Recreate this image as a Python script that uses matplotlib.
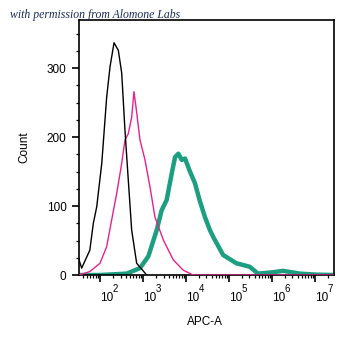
import numpy as np
import matplotlib
matplotlib.use("Agg")
import matplotlib.pyplot as plt
from matplotlib.ticker import LogLocator, MultipleLocator, FixedLocator, NullFormatter

plt.rcParams['font.family'] = ['Liberation Sans', 'DejaVu Sans']
plt.rcParams['mathtext.default'] = 'regular'

# Unstained / isotype control (black)
black_x = [32.5, 37.5, 58, 70, 84, 110, 143, 171, 212, 267, 320, 381, 455, 546, 713, 1220]
black_y = [22, 10, 36, 75, 99, 162, 258, 302, 337, 326, 293, 210, 138, 65, 17, 0]

# Pink histogram
pink_x = [32.5, 58, 100, 143, 187, 244, 320, 381, 455, 546, 617, 687, 852, 1113, 1454, 1900, 2967, 5060, 8630, 14700, 2.77e7]
pink_y = [0, 5, 17, 41, 80, 118, 162, 196, 205, 229, 266, 244, 196, 167, 128, 84, 51, 22, 7, 0, 0]

# Teal histogram (stained)
teal_x = [32.5, 100, 417, 852, 1330, 2080, 2720, 3560, 4650, 5560, 6650, 7950, 9510, 12400,
          16200, 21100, 27600, 36100, 43200, 73200, 149000, 303000, 473000, 1.06e6, 1.81e6,
          4.46e6, 1.09e7, 2.77e7]
teal_y = [0, 0, 2, 10, 27, 65, 94, 109, 147, 171, 176, 167, 169, 150,
          133, 107, 84, 65, 55, 29, 17, 12, 2, 4, 6, 2, 0.5, 0]

y_ticks = [0, 100, 200, 300]
x_ticks = [1e2, 1e3, 1e4, 1e5, 1e6, 1e7]
x_exponents = ['2', '3', '4', '5', '6', '7']

fig = plt.figure(figsize=(3.55, 3.48), dpi=100)
ax = fig.add_axes([79/355, 1 - 275/348, 255/355, 255/348])

ax.plot(teal_x, teal_y, color='#1c9e80', lw=3.2, solid_joinstyle='round', zorder=2)
ax.plot(pink_x, pink_y, color='#e8218c', lw=1.0, zorder=3)
ax.plot(black_x, black_y, color='black', lw=1.0, zorder=4)

ax.set_xscale('log')
ax.set_xlim(32.5, 2.77e7)
ax.set_ylim(0, 370)

ax.set_yticks(y_ticks)
ax.yaxis.set_minor_locator(MultipleLocator(25))
ax.xaxis.set_major_locator(FixedLocator(x_ticks))
ax.xaxis.set_major_formatter(NullFormatter())
ax.xaxis.set_minor_locator(LogLocator(base=10, subs=np.arange(2, 10), numticks=20))
ax.xaxis.set_minor_formatter(NullFormatter())

ax.tick_params(axis='both', which='major', direction='out', length=5, width=1.2, labelsize=8.5)
ax.tick_params(axis='both', which='minor', direction='out', length=2.5, width=0.9)
ax.tick_params(axis='y', which='major', pad=4)

xform = ax.get_xaxis_transform()
for xv, ex in zip(x_ticks, x_exponents):
    ax.annotate('10', xy=(xv, 0), xycoords=xform, xytext=(0.5, -26), textcoords='offset pixels',
                ha='left', va='baseline', fontsize=8.5, annotation_clip=False)
    ax.annotate(ex, xy=(xv, 0), xycoords=xform, xytext=(13, -17), textcoords='offset pixels',
                ha='left', va='baseline', fontsize=7, annotation_clip=False)

for s in ax.spines.values():
    s.set_linewidth(1.2)

ax.set_xlabel('APC-A', fontsize=8.5)
ax.xaxis.set_label_coords((205 - 79) / 255, -(316 - 275) / 255)
ax.set_ylabel('Count', fontsize=8.5)
ax.yaxis.set_label_coords(-(79 - 30) / 255, (275 - 147) / 255)

fig.text(10/355, 1 - 18/348, 'with permission from Alomone Labs', fontsize=8.5,
         family=['Liberation Serif', 'DejaVu Serif'], style='italic', color='#1b2c5c')

fig.savefig('out.png', dpi=100)
